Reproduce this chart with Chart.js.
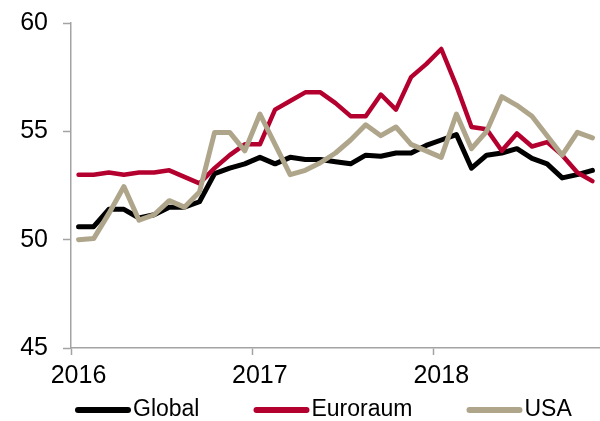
<!DOCTYPE html>
<html>
<head>
<meta charset="utf-8">
<script src="https://cdn.jsdelivr.net/npm/chart.js@4"></script>
<style>
  html, body { margin: 0; padding: 0; background: #fff; }
  #wrap { width: 600px; height: 421px; }
</style>
</head>
<body>
<div id="wrap"><canvas id="pmiChart" width="600" height="421"></canvas></div>
<script>
// months Jan 2016 .. Nov 2018
const months = [
  'Jan 16','Feb 16','Mar 16','Apr 16','May 16','Jun 16','Jul 16','Aug 16','Sep 16','Oct 16','Nov 16','Dec 16',
  'Jan 17','Feb 17','Mar 17','Apr 17','May 17','Jun 17','Jul 17','Aug 17','Sep 17','Oct 17','Nov 17','Dec 17',
  'Jan 18','Feb 18','Mar 18','Apr 18','May 18','Jun 18','Jul 18','Aug 18','Sep 18','Oct 18','Nov 18'
];
const yearLabels = ['2016', '2017', '2018'];
const yTicks = [45, 50, 55, 60];

const globalVals = [50.6, 50.6, 51.4, 51.4, 51.0, 51.15, 51.5, 51.5, 51.75, 53.05, 53.3, 53.5,
  53.8, 53.5, 53.8, 53.7, 53.7, 53.6, 53.5, 53.9, 53.85, 54.0, 54.0, 54.35,
  54.6, 54.85, 53.3, 53.9, 54.0, 54.2, 53.75, 53.5, 52.85, 53.0, 53.2];
const euroVals = [53.0, 53.0, 53.1, 53.0, 53.1, 53.1, 53.2, 52.9, 52.6, 53.3, 53.9, 54.4,
  54.4, 56.0, 56.4, 56.8, 56.8, 56.3, 55.7, 55.7, 56.7, 56.0, 57.5, 58.1,
  58.8, 57.1, 55.2, 55.1, 54.1, 54.9, 54.3, 54.5, 53.9, 53.1, 52.7];
const usaVals = [50.0, 50.05, 51.2, 52.45, 50.9, 51.15, 51.8, 51.5, 52.2, 54.95, 54.95, 54.1,
  55.8, 54.4, 53.0, 53.2, 53.55, 54.0, 54.6, 55.3, 54.8, 55.2, 54.4, 54.1,
  53.8, 55.8, 54.2, 55.0, 56.6, 56.2, 55.7, 54.8, 53.9, 54.95, 54.7];

const FONT = "'Liberation Sans', Arial, sans-serif";
const AXIS_GREY = '#a3a3a3';

// each month sits in the middle of its slot, years tick at the slot edges
const toPoints = vals => vals.map((v, i) => ({ x: i + 0.5, y: v }));

function series(label, vals, color, width, order) {
  return {
    label, data: toPoints(vals), borderColor: color, backgroundColor: color,
    borderWidth: width, pointRadius: 0, tension: 0, order,
    borderJoinStyle: 'round', borderCapStyle: 'round'
  };
}

// simple legend: thick line sample followed by the name
const lineLegend = {
  id: 'lineLegend',
  afterDraw(chart) {
    const ctx = chart.ctx;
    const y = 410;
    let x = 78;
    ctx.save();
    ctx.font = '23px ' + FONT;
    ctx.textBaseline = 'middle';
    chart.data.datasets.forEach(ds => {
      ctx.strokeStyle = ds.borderColor;
      ctx.lineWidth = 6;
      ctx.lineCap = 'round';
      ctx.beginPath();
      ctx.moveTo(x, y);
      ctx.lineTo(x + 50, y);
      ctx.stroke();
      ctx.fillStyle = '#000';
      ctx.fillText(ds.label, x + 55, y);
      x += 55 + ctx.measureText(ds.label).width + 57;
    });
    ctx.restore();
  }
};

new Chart(document.getElementById('pmiChart'), {
  type: 'line',
  data: {
    datasets: [
      series('Global', globalVals, '#000000', 5, 3),
      series('Euroraum', euroVals, '#b4002f', 4.5, 2),
      series('USA', usaVals, '#aea58b', 5, 1)
    ]
  },
  options: {
    responsive: false,
    animation: false,
    layout: { padding: { top: 23, right: 0, bottom: 0, left: 0 } },
    plugins: { legend: { display: false }, tooltip: { enabled: false } },
    scales: {
      x: {
        type: 'linear', min: 0, max: months.length,
        afterBuildTicks: s => { s.ticks = [0, 12, 24].map(v => ({ value: v })); },
        afterFit: s => { s.height = 73; s.paddingLeft = 0; s.paddingRight = 0; },
        border: { color: AXIS_GREY, width: 1.5 },
        grid: { drawOnChartArea: false, color: AXIS_GREY, tickLength: 7, tickWidth: 1.5 },
        ticks: {
          autoSkip: false, maxRotation: 0, labelOffset: 7.5, padding: 6,
          color: '#000', font: { family: FONT, size: 25 },
          callback: v => yearLabels[v / 12]
        }
      },
      y: {
        min: 45, max: 60,
        afterBuildTicks: s => { s.ticks = yTicks.map(v => ({ value: v })); },
        afterFit: s => { s.width = 71; s.paddingTop = 0; s.paddingBottom = 0; },
        border: { color: AXIS_GREY, width: 1.5 },
        grid: { drawOnChartArea: false, color: AXIS_GREY, tickLength: 8, tickWidth: 1.5 },
        ticks: { padding: 15, color: '#000', font: { family: FONT, size: 25 } }
      }
    }
  },
  plugins: [lineLegend]
});
</script>
</body>
</html>
